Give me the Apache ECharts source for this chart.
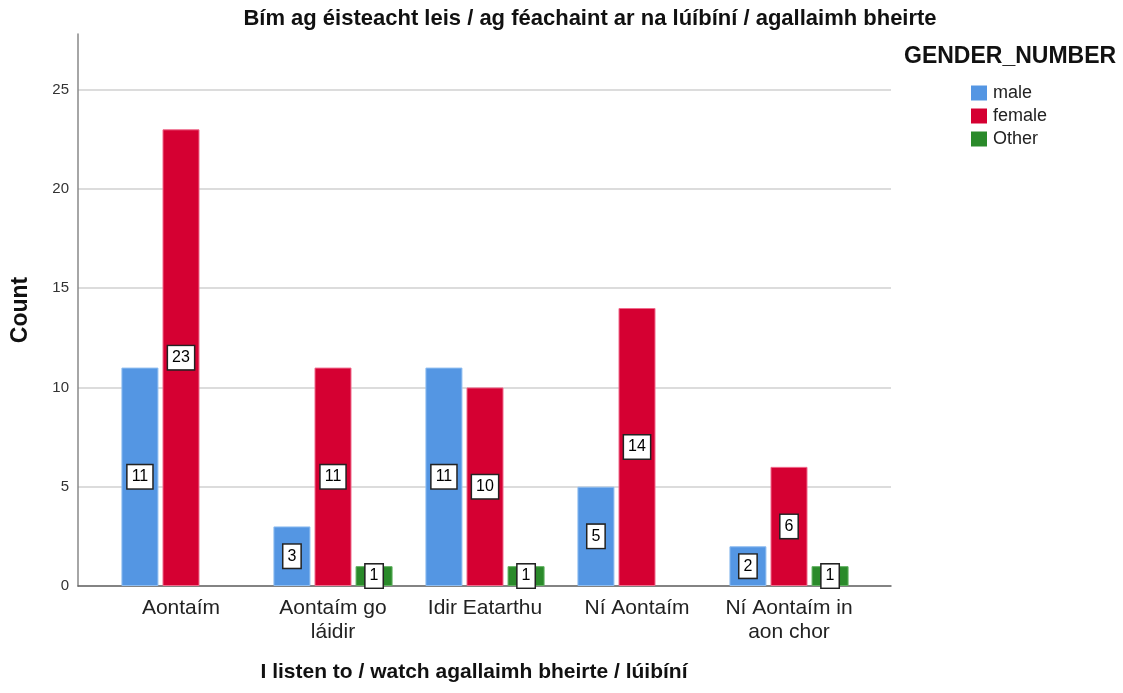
<!DOCTYPE html>
<html>
<head>
<meta charset="utf-8">
<script src="https://cdn.jsdelivr.net/npm/echarts@6/dist/echarts.min.js"></script>
<style>html,body{margin:0;padding:0;background:#fff}#c{width:1123px;height:693px}</style>
</head>
<body>
<div id="c"></div>
<script>
var categories = ['Aontaím', 'Aontaím go\nláidir', 'Idir Eatarthu', 'Ní Aontaím', 'Ní Aontaím in\naon chor'];
var seriesNames = ['male', 'female', 'Other'];
var maleValues = [11, 3, 11, 5, 2];
var femaleValues = [23, 11, 10, 14, 6];
var otherValues = [null, 1, 1, null, 1];
var yTicks = [0, 5, 10, 15, 20, 25];

var FONT = '"Liberation Sans", Arial, sans-serif';
var colors = ['#5496e3', '#d50032', '#2a8a2a'];
var edge = ['#8fbdf0', '#f06a8c', '#5fb05f'];
var yMax = 27.8;

function mk(name, data, i) {
  return {
    name: name, type: 'bar', data: data,
    xAxisIndex: 1, yAxisIndex: 1,
    barWidth: 37, barGap: '11%',
    itemStyle: { color: colors[i], borderColor: edge[i], borderWidth: 1 },
    label: {
      show: true, position: 'inside', color: '#000', fontFamily: FONT, fontSize: 16,
      backgroundColor: '#fff', borderColor: '#222', borderWidth: 1.5,
      padding: [4, 4, 3, 4]
    }
  };
}

var gridColors = ['#d0d0d0', '#d0d0d0', '#d0d0d0', '#d0d0d0', '#d0d0d0', '#d0d0d0', 'rgba(0,0,0,0)'];

var chart = echarts.init(document.getElementById('c'));
chart.setOption({
  animation: false,
  title: [
    { text: 'Bím ag éisteacht leis / ag féachaint ar na lúíbíní / agallaimh bheirte',
      left: 590, top: 8, textAlign: 'center', padding: 0,
      textStyle: { fontFamily: FONT, fontSize: 22, fontWeight: 'bold', color: '#111' } },
    { text: 'GENDER_NUMBER', left: 904, top: 45, padding: 0,
      textStyle: { fontFamily: FONT, fontSize: 23, fontWeight: 'bold', color: '#111' } }
  ],
  legend: {
    data: seriesNames, orient: 'vertical', left: 971, top: 84, padding: 0,
    itemWidth: 16, itemHeight: 15, itemGap: 5, icon: 'rect',
    itemStyle: { borderWidth: 0 },
    textStyle: { fontFamily: FONT, fontSize: 18, color: '#222', padding: [0, 0, 0, 1] }
  },
  grid: [
    { left: 78, right: 232, top: 34, bottom: 107, containLabel: false },
    { left: 105, right: 258, top: 34, bottom: 107, containLabel: false }
  ],
  xAxis: [
    { type: 'category', gridIndex: 0, data: [''], show: true,
      axisLine: { show: true, lineStyle: { color: '#666', width: 1.5 } },
      axisTick: { show: false }, axisLabel: { show: false } },
    { type: 'category', gridIndex: 1, data: categories,
      axisLine: { show: false }, axisTick: { show: false },
      axisLabel: { fontFamily: FONT, fontSize: 21, color: '#222', lineHeight: 24, margin: 10, interval: 0 },
      name: 'I listen to / watch agallaimh bheirte / lúibíní', nameLocation: 'middle', nameGap: 76,
      nameTextStyle: { fontFamily: FONT, fontSize: 21, fontWeight: 'bold', color: '#111', padding: [0, 22, 0, 0] } }
  ],
  yAxis: [
    { type: 'value', gridIndex: 0, min: 0, max: yMax, interval: 5,
      axisLine: { show: true, lineStyle: { color: '#888', width: 1.5 } },
      axisTick: { show: false },
      splitLine: { show: true, lineStyle: { color: gridColors, width: 1.5 } },
      axisLabel: { fontFamily: FONT, fontSize: 15, color: '#333', margin: 9,
        formatter: function (v) { return yTicks.indexOf(v) >= 0 ? String(v) : ''; } },
      name: 'Count', nameLocation: 'middle', nameGap: 46, nameRotate: 90,
      nameTextStyle: { fontFamily: FONT, fontSize: 23, fontWeight: 'bold', color: '#111' } },
    { type: 'value', gridIndex: 1, min: 0, max: yMax, interval: 5, show: false,
      splitLine: { show: false } }
  ],
  series: [
    mk(seriesNames[0], maleValues, 0),
    mk(seriesNames[1], femaleValues, 1),
    mk(seriesNames[2], otherValues, 2)
  ]
});
</script>
</body>
</html>
